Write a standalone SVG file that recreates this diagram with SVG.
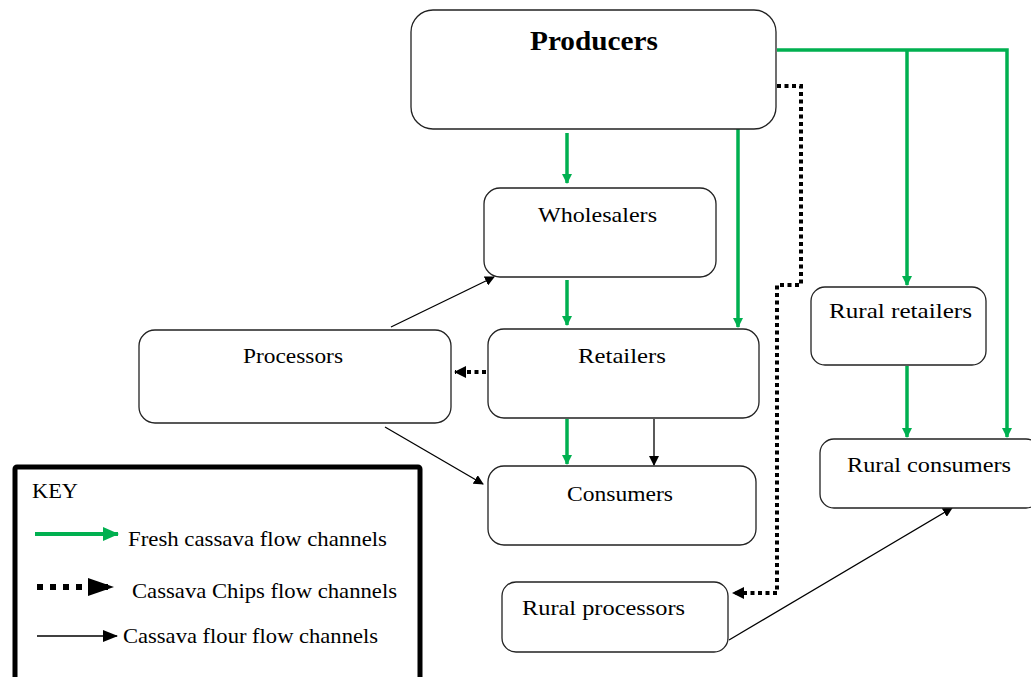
<svg xmlns="http://www.w3.org/2000/svg" width="1031" height="677" viewBox="0 0 1031 677">
<style>
.box{fill:#fff;stroke:#222;stroke-width:1.3}
text{font-family:'Liberation Serif','Times New Roman',serif;font-size:22px;fill:#000}
.g{stroke:#00b050;stroke-width:3.5;fill:none}
.d{stroke:#000;stroke-width:4;stroke-dasharray:4 3.5;fill:none}
.f{stroke:#000;stroke-width:1.3;fill:none}
</style>
<defs>
<marker id="ag" markerWidth="10" markerHeight="10" refX="9" refY="5" orient="auto" markerUnits="userSpaceOnUse" viewBox="0 0 10 10"><path d="M0,0 L10,5 L0,10 Z" fill="#00b050"/></marker>
<marker id="agk" markerWidth="16" markerHeight="14" refX="15" refY="7" orient="auto" markerUnits="userSpaceOnUse" viewBox="0 0 16 14"><path d="M0,0 L16,7 L0,14 Z" fill="#00b050"/></marker>
<marker id="ad" markerWidth="12" markerHeight="12" refX="11" refY="6" orient="auto" markerUnits="userSpaceOnUse" viewBox="0 0 12 12"><path d="M0,0 L12,6 L0,12 Z" fill="#000"/></marker>
<marker id="adk" markerWidth="26" markerHeight="18" refX="25" refY="9" orient="auto" markerUnits="userSpaceOnUse" viewBox="0 0 26 18"><path d="M0,0 L26,9 L0,18 Z" fill="#000"/></marker>
<marker id="af" markerWidth="10" markerHeight="10" refX="9" refY="5" orient="auto" markerUnits="userSpaceOnUse" viewBox="0 0 10 10"><path d="M0,0 L10,5 L0,10 Z" fill="#000"/></marker>
<marker id="afk" markerWidth="15" markerHeight="12" refX="14" refY="6" orient="auto" markerUnits="userSpaceOnUse" viewBox="0 0 15 12"><path d="M0,0 L15,6 L0,12 Z" fill="#000"/></marker>
</defs>
<rect width="1031" height="677" fill="#fff"/>
<g id="connectors">
<line class="g" x1="567" y1="133" x2="567" y2="183" marker-end="url(#ag)"/>
<line class="g" x1="567" y1="280" x2="567" y2="325" marker-end="url(#ag)"/>
<line class="g" x1="738" y1="129" x2="738" y2="327" marker-end="url(#ag)"/>
<line class="g" x1="567" y1="419" x2="567" y2="464" marker-end="url(#ag)"/>
<polyline class="g" points="777,50 1007,50 1007,437" marker-end="url(#ag)"/>
<line class="g" x1="907" y1="50" x2="907" y2="285" marker-end="url(#ag)"/>
<line class="g" x1="907" y1="366" x2="907" y2="437" marker-end="url(#ag)"/>
<polyline class="d" points="777,86 801,86 801,285 777,285 777,593 733,593" marker-end="url(#ad)"/>
<line class="d" x1="486" y1="372" x2="455" y2="372" marker-end="url(#ad)"/>
<line class="f" x1="654" y1="419" x2="654" y2="465" marker-end="url(#af)"/>
<line class="f" x1="391" y1="327" x2="494" y2="277" marker-end="url(#af)"/>
<line class="f" x1="385" y1="427" x2="483" y2="484" marker-end="url(#af)"/>
<line class="f" x1="729" y1="640" x2="952" y2="508" marker-end="url(#af)"/>
</g>
<g id="producers"><rect class="box" x="411" y="10" width="365" height="119" rx="22"/><text x="530" y="50" font-weight="bold" style="font-size:28px" textLength="128" lengthAdjust="spacingAndGlyphs">Producers</text></g>
<g id="wholesalers"><rect class="box" x="484" y="188" width="232" height="89" rx="16"/><text x="538" y="222" textLength="119" lengthAdjust="spacingAndGlyphs">Wholesalers</text></g>
<g id="retailers"><rect class="box" x="488" y="329" width="271" height="89" rx="16"/><text x="578" y="363" textLength="88" lengthAdjust="spacingAndGlyphs">Retailers</text></g>
<g id="processors"><rect class="box" x="139" y="330" width="312" height="93" rx="16"/><text x="243" y="363" textLength="100" lengthAdjust="spacingAndGlyphs">Processors</text></g>
<g id="consumers"><rect class="box" x="488" y="466" width="268" height="79" rx="16"/><text x="567" y="501" textLength="106" lengthAdjust="spacingAndGlyphs">Consumers</text></g>
<g id="rural-retailers"><rect class="box" x="811" y="287" width="175" height="78" rx="14"/><text x="829" y="318" textLength="143" lengthAdjust="spacingAndGlyphs">Rural retailers</text></g>
<g id="rural-consumers"><rect class="box" x="820" y="439" width="220" height="69" rx="14"/><text x="847" y="472" textLength="164" lengthAdjust="spacingAndGlyphs">Rural consumers</text></g>
<g id="rural-processors"><rect class="box" x="502" y="582" width="226" height="70" rx="14"/><text x="522" y="615" textLength="163" lengthAdjust="spacingAndGlyphs">Rural processors</text></g>
<g id="key">
<rect x="15" y="467" width="405" height="220" fill="#fff" stroke="#000" stroke-width="5" rx="2"/>
<text x="32" y="498" textLength="46" lengthAdjust="spacingAndGlyphs">KEY</text>
<line stroke="#00b050" stroke-width="4" x1="35" y1="534" x2="118" y2="534" marker-end="url(#agk)"/>
<text x="128" y="546" textLength="259" lengthAdjust="spacingAndGlyphs">Fresh cassava flow channels</text>
<line stroke="#000" stroke-width="6" stroke-dasharray="6 7" x1="37" y1="587" x2="113" y2="587" marker-end="url(#adk)"/>
<text x="132" y="598" textLength="265" lengthAdjust="spacingAndGlyphs">Cassava Chips flow channels</text>
<line stroke="#000" stroke-width="1.5" x1="37" y1="636" x2="117" y2="636" marker-end="url(#afk)"/>
<text x="123" y="643" textLength="255" lengthAdjust="spacingAndGlyphs">Cassava flour flow channels</text>
</g>
</svg>
